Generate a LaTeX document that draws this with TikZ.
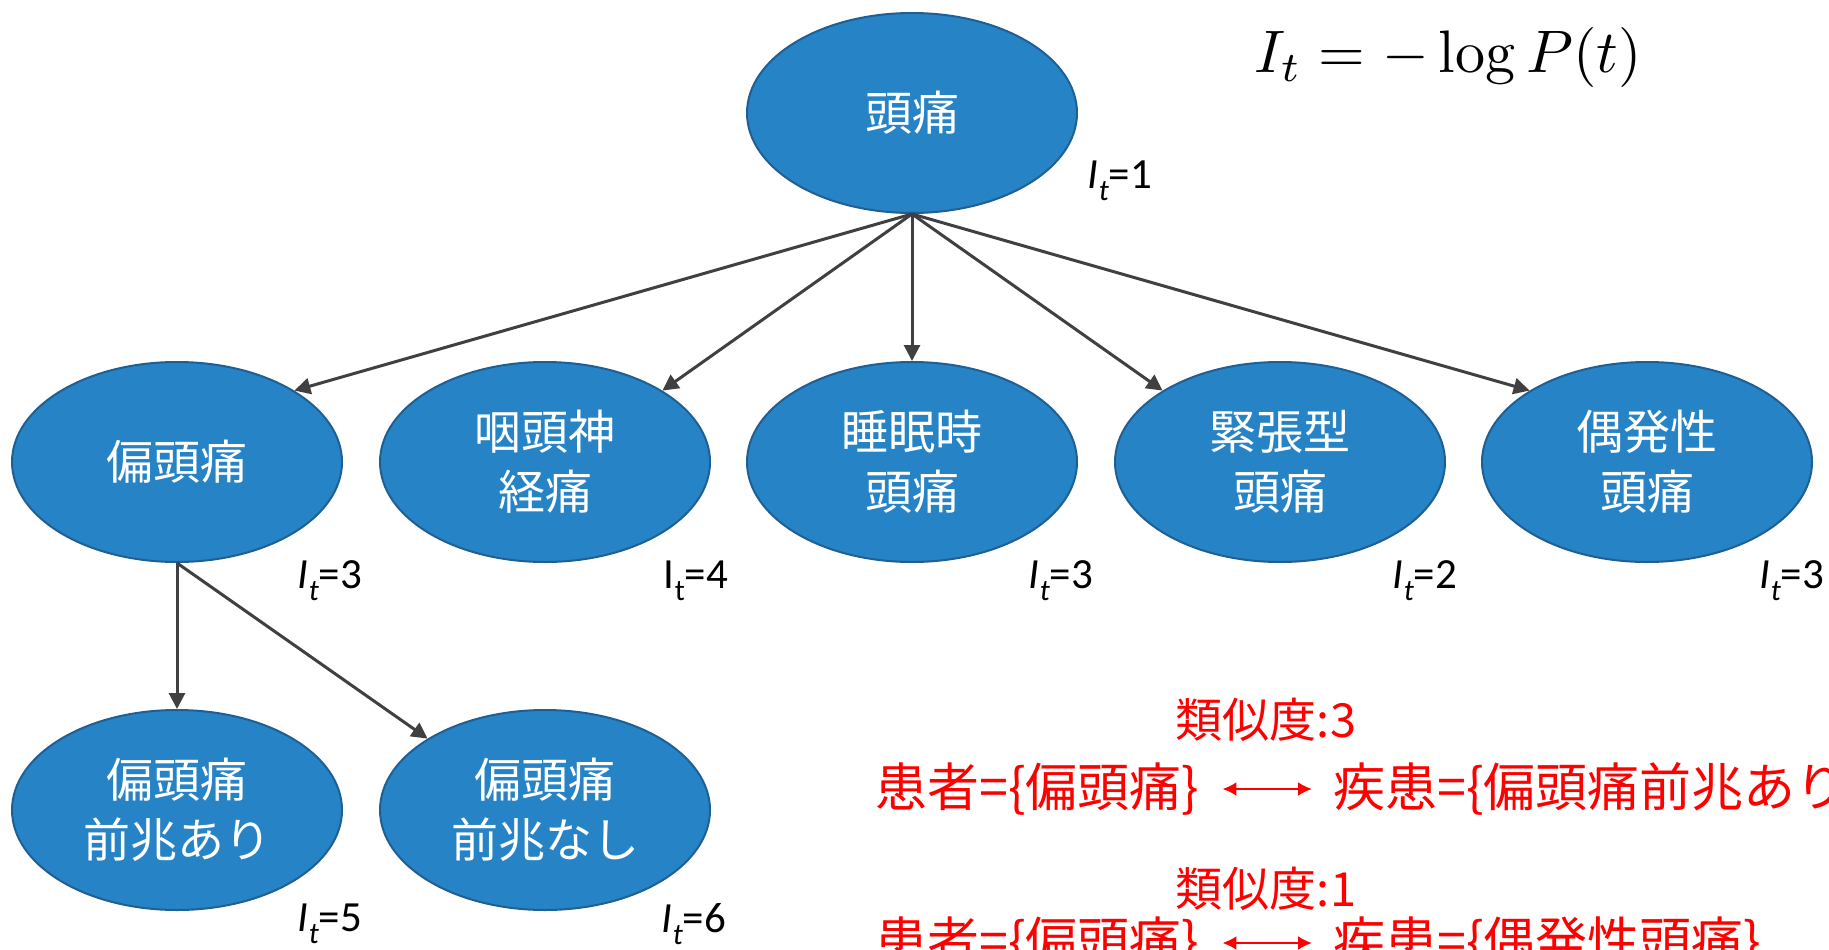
\documentclass[tikz,border=0pt]{standalone}
\usepackage[no-math]{fontspec}
\setmainfont{Noto Sans CJK JP}
\newfontfamily\calibri{Carlito}
\usetikzlibrary{shapes.geometric,arrows.meta}
\definecolor{nodeblue}{HTML}{2683C6}
\definecolor{nodeedge}{HTML}{1F5F94}
\definecolor{arrowgray}{HTML}{404040}
\newcommand{\itlab}[1]{{\itshape I\raisebox{-0.28em}{\fontsize{30}{30}\selectfont t}}=#1}
\newcommand{\itlabup}[1]{I\raisebox{-0.28em}{\fontsize{30}{30}\selectfont t}=#1}
\begin{document}
\begin{tikzpicture}[x=1pt,y=-1pt,
  concept/.style={ellipse, draw=nodeedge, line width=2pt, fill=nodeblue,
    minimum width=330pt, minimum height=200pt, inner sep=0pt, text=white,
    font=\fontsize{47}{60}\selectfont, align=center},
  link/.style={draw=arrowgray, line width=3pt, -{Triangle[length=16pt,width=16pt]}},
  info/.style={font=\calibri\fontsize{43}{43}\selectfont, inner sep=0pt},
  redtxt/.style={text=red, font=\fontsize{52}{60}\selectfont, inner sep=0pt, anchor=west},
  simtxt/.style={text=red, font=\fontsize{47}{50}\selectfont, inner sep=0pt},
  redarrow/.style={draw=red, line width=2.5pt,
    {Latex[length=14pt,width=14pt]}-{Latex[length=14pt,width=14pt]}}
]
\useasboundingbox (0,0) rectangle (1829,950);
\clip (0,0) rectangle (1829,950);

% concept nodes
\node[concept] (root) at (912,113) {頭痛};
\node[concept] (mig)  at (177,462) {偏頭痛};
\node[concept] (glo)  at (545,462) {咽頭神\\経痛};
\node[concept] (slp)  at (912,462) {睡眠時\\頭痛};
\node[concept] (ten)  at (1280,462) {緊張型\\頭痛};
\node[concept] (occ)  at (1647,462) {偶発性\\頭痛};
\node[concept] (aura) at (177,810) {偏頭痛\\前兆あり};
\node[concept] (noau) at (545,810) {偏頭痛\\前兆なし};

% links
\draw[link] (root.south) -- (mig.north east);
\draw[link] (root.south) -- (glo.north east);
\draw[link] (root.south) -- (slp.north);
\draw[link] (root.south) -- (ten.north west);
\draw[link] (root.south) -- (occ.north west);
\draw[link] (mig.south) -- (aura.north);
\draw[link] (mig.south) -- (noau.north west);

% information labels
\node[info] (lroot) at (1120,181) {\itlab{1}};
\node[info] (lmig)  at (330,581) {\itlab{3}};
\node[info] (lglo)  at (696,581) {\itlabup{4}};
\node[info] (lslp)  at (1061,581) {\itlab{3}};
\node[info] (lten)  at (1425,581) {\itlab{2}};
\node[info] (locc)  at (1792,581) {\itlab{3}};
\node[info] (laura) at (330,924) {\itlab{5}};
\node[info] (lnoau) at (694,924) {\itlab{6}};

% formula
\node[scale=6, inner sep=0pt] (formula) at (1448,58) {$I_t = -\log P(t)$};

% similarity examples
\node[simtxt] (sim1) at (1266,720) {類似度:3};
\node[redtxt] (pat1) at (875,789) {患者=\{偏頭痛\}};
\node[redtxt] (dis1) at (1333,789) {疾患=\{偏頭痛前兆あり\}};
\draw[redarrow, shorten <=23pt, shorten >=21pt] (pat1.east) -- (dis1.west);

\node[simtxt] (sim2) at (1266,889) {類似度:1};
\node[redtxt] (pat2) at (875,943) {患者=\{偏頭痛\}};
\node[redtxt] (dis2) at (1333,943) {疾患=\{偶発性頭痛\}};
\draw[redarrow, shorten <=23pt, shorten >=21pt] (pat2.east) -- (dis2.west);
\end{tikzpicture}
\end{document}
